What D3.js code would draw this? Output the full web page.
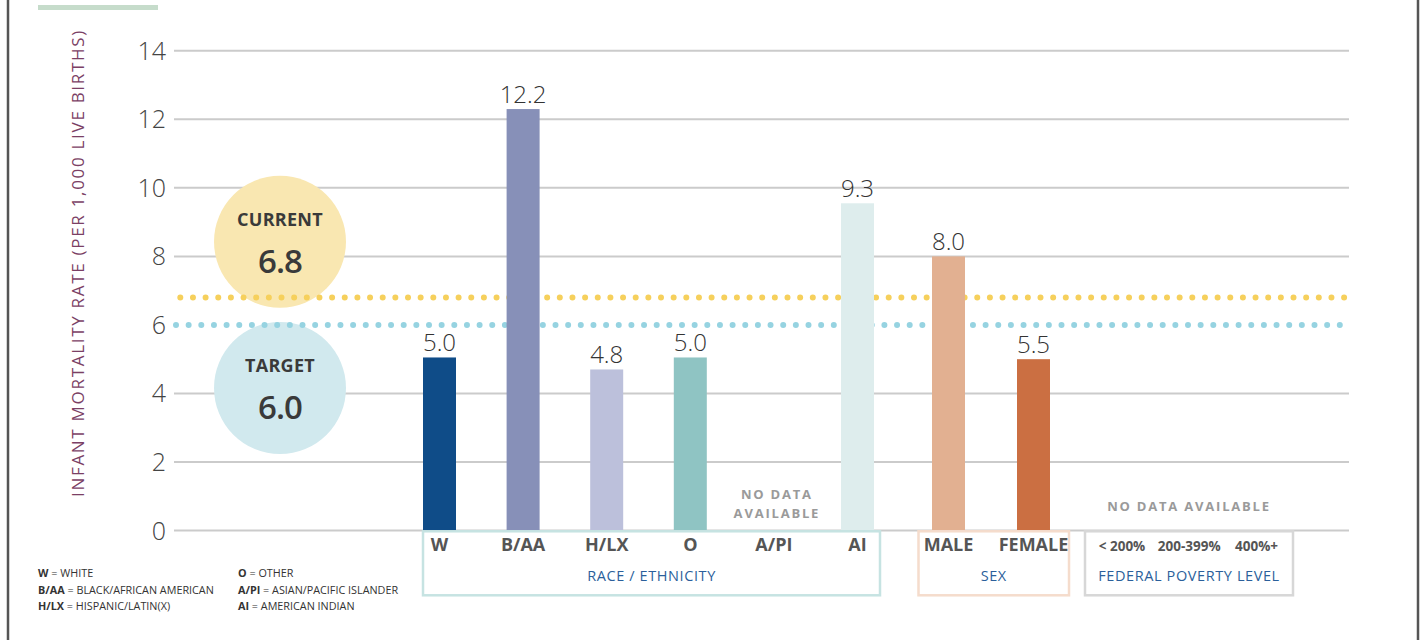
<!DOCTYPE html>
<html lang="en">
<head>
  <meta charset="utf-8" />
  <title>Infant mortality rate</title>
  <script src="https://cdn.jsdelivr.net/npm/d3@7/dist/d3.min.js"></script>
  <style>
    html, body { margin: 0; padding: 0; background: #fff; }
    svg { display: block; font-family: "Open Sans", "Noto Sans", sans-serif; }
    .grid line { stroke: #cbcbcb; stroke-width: 2px; }
    .tick-label { font-size: 25px; font-weight: 300; fill: #444; }
    .val { font-size: 24px; font-weight: 300; fill: #333; }
    .cat { font-size: 18px; font-weight: 700; fill: #555; }
    .fpl-cat { font-size: 13.5px; font-weight: 700; fill: #555; }
    .group-title { font-size: 14.5px; fill: #2b5f9b; letter-spacing: 0.6px; }
    .nodata { font-size: 13px; font-weight: 700; fill: #9a9a9a; letter-spacing: 1.8px; }
    .legend { font-size: 10.8px; fill: #333; }
  </style>
</head>
<body>
<div id="chart"></div>
<script>
  // values
  const yTicks = [0, 2, 4, 6, 8, 10, 12, 14];
  const currentRate = 6.8;
  const targetRate = 6.0;

  const raceCats = ["W", "B/AA", "H/LX", "O", "A/PI", "AI"];
  const racePrinted = [5.0, 12.2, 4.8, 5.0, null, 9.3];
  // bar heights as drawn in the original (not always equal to the printed value)
  const raceBars = [5.05, 12.3, 4.7, 5.05, null, 9.55];
  const raceColors = ["#0f4c88", "#8790b8", "#bcc0db", "#8fc4c3", "#fff", "#deeded"];

  const sexCats = ["MALE", "FEMALE"];
  const sexPrinted = [8.0, 5.5];
  const sexBars = [8.0, 5.0];
  const sexColors = ["#e2b091", "#cb6f42"];

  const fplCats = ["< 200%", "200-399%", "400%+"];

  const legendLeft = [["W", "WHITE"], ["B/AA", "BLACK/AFRICAN AMERICAN"], ["H/LX", "HISPANIC/LATIN(X)"]];
  const legendRight = [["O", "OTHER"], ["A/PI", "ASIAN/PACIFIC ISLANDER"], ["AI", "AMERICAN INDIAN"]];

  const W = 1421, H = 640;
  const svg = d3.select("#chart").append("svg").attr("width", W).attr("height", H);

  const y = d3.scaleLinear().domain([0, 14]).range([530.5, 50.8]);
  const fmt = d3.format(".1f");

  // frame
  svg.append("line").attr("x1", 8).attr("x2", 8).attr("y1", 0).attr("y2", H)
    .attr("stroke", "#555").attr("stroke-width", 2.5);
  svg.append("line").attr("x1", 1418).attr("x2", 1418).attr("y1", 0).attr("y2", H)
    .attr("stroke", "#555").attr("stroke-width", 2.5);
  svg.append("rect").attr("x", 38).attr("y", 5).attr("width", 120).attr("height", 5).attr("fill", "#c6dccb");

  // gridlines
  const grid = svg.append("g").attr("class", "grid");
  grid.selectAll("line").data(yTicks.filter(d => d !== 6)).enter().append("line")
    .attr("x1", 174).attr("x2", 1349)
    .attr("y1", d => y(d)).attr("y2", d => y(d));

  svg.append("g").selectAll("text").data(yTicks).enter().append("text")
    .attr("class", "tick-label")
    .attr("x", 166).attr("y", d => y(d)).attr("dy", "0.36em")
    .attr("text-anchor", "end").text(d => d);

  // y axis title
  svg.append("text")
    .attr("transform", "translate(84," + 263 + ") rotate(-90)")
    .attr("text-anchor", "middle")
    .style("font-size", "17px").style("fill", "#7b3f65").style("letter-spacing", "1.7px")
    .text("INFANT MORTALITY RATE (PER 1,000 LIVE BIRTHS)");

  // current / target circles
  const badges = [
    { name: "CURRENT", v: currentRate, cx: 280, cy: 241.7, fill: "#f9e7b1" },
    { name: "TARGET", v: targetRate, cx: 280, cy: 388, fill: "#d1e9ee" }
  ];
  badges.forEach(b => {
    svg.append("circle").attr("cx", b.cx).attr("cy", b.cy).attr("r", 66).attr("fill", b.fill);
    svg.append("text").attr("x", b.cx).attr("y", b.cy - 16).attr("text-anchor", "middle")
      .style("font-size", "18px").style("font-weight", 700).style("fill", "#3a3a3a")
      .style("letter-spacing", "0.3px").text(b.name);
    svg.append("text").attr("x", b.cx).attr("y", b.cy + 31).attr("text-anchor", "middle")
      .style("font-size", "33px").style("font-weight", 600).style("fill", "#3a3a3a")
      .style("letter-spacing", "-1px")
      .text(fmt(b.v));
  });

  // dotted reference lines
  svg.append("line").attr("x1", 176).attr("x2", 1346)
    .attr("y1", y(targetRate)).attr("y2", y(targetRate))
    .attr("stroke", "#96d3e1").attr("stroke-width", 6)
    .attr("stroke-linecap", "round").attr("stroke-dasharray", "0 12.65");
  svg.append("line").attr("x1", 180.3).attr("x2", 1346)
    .attr("y1", y(currentRate)).attr("y2", y(currentRate))
    .attr("stroke", "#f6d05c").attr("stroke-width", 6)
    .attr("stroke-linecap", "round").attr("stroke-dasharray", "0 12.65");

  // groups
  const groups = [
    { title: "RACE / ETHNICITY", cats: raceCats, bars: raceBars, printed: racePrinted, colors: raceColors,
      box: [423, 880], pts: [439.5, 857.5], stroke: "#c6e3e2", catClass: "cat" },
    { title: "SEX", cats: sexCats, bars: sexBars, printed: sexPrinted, colors: sexColors,
      box: [918.5, 1069], pts: [948.5, 1033.5], stroke: "#f5dccc", catClass: "cat" },
    { title: "FEDERAL POVERTY LEVEL", cats: fplCats, bars: fplCats.map(() => null), printed: fplCats.map(() => null),
      colors: fplCats.map(() => "#fff"), box: [1085, 1293], pts: [1122, 1256.5], stroke: "#d7d7d7", catClass: "fpl-cat" }
  ];
  const barW = 33;

  groups.forEach(g => {
    const x = d3.scalePoint().domain(g.cats).range(g.pts);
    const rows = g.cats.map((c, i) => ({ c: c, v: g.bars[i], p: g.printed[i], color: g.colors[i] }));
    const gg = svg.append("g");

    gg.selectAll("rect.bar").data(rows.filter(d => d.v != null)).enter().append("rect")
      .attr("class", "bar")
      .attr("x", d => x(d.c) - barW / 2).attr("width", barW)
      .attr("y", d => y(d.v)).attr("height", d => y(0) - y(d.v))
      .attr("fill", d => d.color);

    gg.selectAll("text.val").data(rows.filter(d => d.v != null)).enter().append("text")
      .attr("class", "val").attr("text-anchor", "middle")
      .attr("x", d => x(d.c)).attr("y", d => y(d.v) - 6)
      .text(d => fmt(d.p));

    gg.append("rect")
      .attr("x", g.box[0]).attr("y", y(0) + 0.8)
      .attr("width", g.box[1] - g.box[0]).attr("height", 64)
      .attr("fill", "none").attr("stroke", g.stroke).attr("stroke-width", 2.5);

    gg.selectAll("text.catlab").data(g.cats).enter().append("text")
      .attr("class", g.catClass).attr("text-anchor", "middle")
      .attr("x", d => x(d)).attr("y", 551).text(d => d);

    gg.append("text").attr("class", "group-title").attr("text-anchor", "middle")
      .attr("x", (g.box[0] + g.box[1]) / 2).attr("y", 581).text(g.title);
  });

  // no data notes
  const xr = d3.scalePoint().domain(raceCats).range([439.5, 857.5]);
  const nd = svg.append("text").attr("class", "nodata").attr("text-anchor", "middle");
  nd.append("tspan").attr("x", xr("A/PI") + 3).attr("y", 499).text("NO DATA");
  nd.append("tspan").attr("x", xr("A/PI") + 3).attr("y", 518).text("AVAILABLE");
  svg.append("text").attr("class", "nodata").attr("text-anchor", "middle")
    .attr("x", 1189).attr("y", 511).text("NO DATA AVAILABLE");

  // abbreviation legend
  function legendCol(items, x0) {
    items.forEach((it, i) => {
      const t = svg.append("text").attr("class", "legend").attr("x", x0).attr("y", 577 + i * 16.5);
      t.append("tspan").style("font-weight", 700).text(it[0]);
      t.append("tspan").text(" = " + it[1]);
    });
  }
  legendCol(legendLeft, 38);
  legendCol(legendRight, 238);
</script>
</body>
</html>
